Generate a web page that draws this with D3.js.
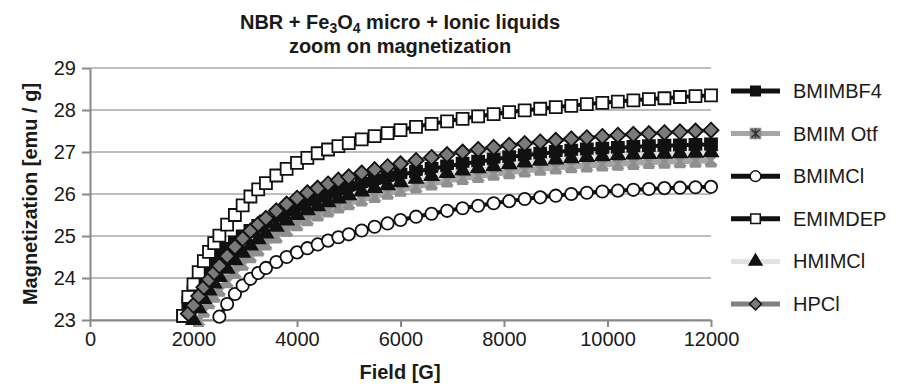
<!DOCTYPE html>
<html lang="en">
    <head>
        <meta charset="utf-8">
        <title>Magnetization</title>
        <script src="https://d3js.org/d3.v7.min.js"></script>
        <style>
            body { margin: 0; background: #fff; }
            text { font-family: "Liberation Sans", Arial, sans-serif; fill: #1a1a1a; }
        </style>
    </head>

    <body>
        <div id="chart"></div>

        <script>
            // field values [G], shared by all series
            var fields = [1800, 1900, 2000, 2100, 2200, 2300, 2400, 2500, 2650, 2800, 2950, 3100, 3250, 3400,
                3600, 3800, 4000, 4200, 4400, 4600, 4800, 5000, 5250, 5500, 5750, 6000,
                6300, 6600, 6900, 7200, 7500, 7800, 8100, 8400, 8700, 9000, 9300, 9600, 9900,
                10200, 10500, 10800, 11100, 11400, 11700, 12000];

            // magnetization [emu/g], null = below the visible range
            var bmimbf4 = [23.1, 23.4, 23.65, 23.87, 24.06, 24.23, 24.38, 24.51, 24.69, 24.85, 24.99, 25.12, 25.24, 25.35,
                25.49, 25.61, 25.72, 25.82, 25.91, 26.0, 26.08, 26.15, 26.24, 26.32, 26.39, 26.46,
                26.53, 26.6, 26.66, 26.72, 26.77, 26.82, 26.88, 26.92, 26.96, 27.0, 27.03, 27.06, 27.08,
                27.1, 27.12, 27.14, 27.15, 27.16, 27.17, 27.18];
            var bmimOtf = [null, null, null, 23.0, 23.22, 23.42, 23.58, 23.72, 23.92, 24.14, 24.34, 24.52, 24.68, 24.82,
                24.99, 25.14, 25.28, 25.4, 25.51, 25.61, 25.7, 25.78, 25.87, 25.95, 26.03, 26.1,
                26.18, 26.25, 26.32, 26.38, 26.43, 26.48, 26.52, 26.56, 26.6, 26.63, 26.66, 26.68, 26.7,
                26.72, 26.74, 26.76, 26.77, 26.78, 26.79, 26.8];
            var bmimCl = [null, null, null, null, null, null, null, 23.08, 23.38, 23.62, 23.82, 23.98, 24.12, 24.24,
                24.38, 24.5, 24.61, 24.71, 24.8, 24.89, 24.97, 25.04, 25.13, 25.22, 25.3, 25.38,
                25.46, 25.53, 25.6, 25.66, 25.72, 25.78, 25.83, 25.88, 25.92, 25.96, 26.0, 26.03, 26.06,
                26.08, 26.1, 26.12, 26.14, 26.15, 26.16, 26.17];
            var emimdep = [23.1, 23.55, 23.85, 24.14, 24.4, 24.62, 24.83, 25.01, 25.27, 25.5, 25.73, 25.94, 26.11, 26.26,
                26.44, 26.6, 26.74, 26.86, 26.97, 27.06, 27.14, 27.21, 27.3, 27.38, 27.45, 27.52,
                27.6, 27.67, 27.73, 27.79, 27.85, 27.9, 27.95, 27.99, 28.03, 28.07, 28.1, 28.14, 28.17,
                28.2, 28.23, 28.26, 28.28, 28.31, 28.33, 28.35];
            var hmimCl = [null, null, 23.0, 23.28, 23.5, 23.7, 23.87, 24.02, 24.22, 24.42, 24.6, 24.77, 24.92, 25.06,
                25.22, 25.37, 25.5, 25.61, 25.71, 25.8, 25.89, 25.97, 26.06, 26.14, 26.21, 26.28,
                26.36, 26.43, 26.5, 26.56, 26.61, 26.66, 26.71, 26.75, 26.79, 26.82, 26.85, 26.88, 26.9,
                26.92, 26.94, 26.95, 26.96, 26.97, 26.98, 26.99];
            var hpCl = [null, 23.15, 23.35, 23.57, 23.78, 23.96, 24.13, 24.29, 24.52, 24.74, 24.94, 25.12, 25.28, 25.42,
                25.6, 25.76, 25.9, 26.03, 26.14, 26.24, 26.33, 26.41, 26.5, 26.58, 26.65, 26.72,
                26.8, 26.87, 26.94, 27.0, 27.06, 27.11, 27.16, 27.2, 27.24, 27.28, 27.31, 27.34, 27.37,
                27.4, 27.42, 27.44, 27.46, 27.48, 27.5, 27.52];

            var seriesNames = ["BMIMBF4", "BMIM Otf", "BMIMCl", "EMIMDEP", "HMIMCl", "HPCl"];
            var seriesValues = [bmimbf4, bmimOtf, bmimCl, emimdep, hmimCl, hpCl];

            var xTicks = [0, 2000, 4000, 6000, 8000, 10000, 12000];
            var yTicks = [23, 24, 25, 26, 27, 28, 29];

            // look of each series (line colour, marker)
            var styles = [
                {line: "#111", marker: "square", fill: "#111", stroke: "#111"},
                {line: "#a6a6a6", marker: "star", fill: "#a6a6a6", stroke: "#8f8f8f"},
                {line: "#111", marker: "circle", fill: "#fff", stroke: "#111"},
                {line: "#111", marker: "square", fill: "#fff", stroke: "#111"},
                {line: "#e2e2e2", marker: "triangle", fill: "#111", stroke: "#111"},
                {line: "#808080", marker: "diamond", fill: "#7a7a7a", stroke: "#111"}
            ];

            var width = 906, height = 387;
            var plot = {left: 90, right: 711, top: 68, bottom: 320};

            var svg = d3.select("#chart")
                        .append("svg")
                        .attr("width", width)
                        .attr("height", height);

            svg.append("rect")
                .attr("width", width)
                .attr("height", height)
                .style("fill", "#fff");

            var x = d3.scaleLinear().domain([0, 12000]).range([plot.left, plot.right]);
            var y = d3.scaleLinear().domain([23, 29]).range([plot.bottom, plot.top]);

            //gridlines
            svg.append("g")
                .selectAll("line")
                .data(yTicks)
                .enter()
                .append("line")
                .attr("x1", plot.left)
                .attr("x2", plot.right)
                .attr("y1", function(d){ return y(d); })
                .attr("y2", function(d){ return y(d); })
                .attr("stroke", "#a8a8a8")
                .attr("stroke-width", 1.5);

            //axes
            var xAxis = svg.append("g")
                .attr("transform", "translate(0," + plot.bottom + ")")
                .call(d3.axisBottom(x).tickValues(xTicks).tickFormat(d3.format("d"))
                    .tickSize(7).tickSizeOuter(0).tickPadding(5));
            var yAxis = svg.append("g")
                .attr("transform", "translate(" + plot.left + ",0)")
                .call(d3.axisLeft(y).tickValues(yTicks).tickFormat(d3.format("d"))
                    .tickSize(8).tickSizeOuter(0).tickPadding(6));

            [xAxis, yAxis].forEach(function(a){
                a.select(".domain").attr("stroke", "#888").attr("stroke-width", 2);
                a.selectAll(".tick line").attr("stroke", "#888").attr("stroke-width", 2);
                a.selectAll(".tick text")
                    .style("font-family", "'Liberation Sans', Arial, sans-serif")
                    .style("font-size", "20px")
                    .attr("fill", "#1a1a1a");
            });

            function markerPath(type){
                if (type == "square") return d3.symbol().type(d3.symbolSquare).size(144)();
                if (type == "circle") return d3.symbol().type(d3.symbolCircle).size(120)();
                if (type == "triangle") return d3.symbol().type(d3.symbolTriangle).size(85)();
                if (type == "diamond") return "M0,-7.5L7.5,0L0,7.5L-7.5,0Z";
                return "M-5.5,-5.5L5.5,5.5M-5.5,5.5L5.5,-5.5M0,-6L0,6M-5.5,-5.5L5.5,-5.5M-5.5,5.5L5.5,5.5";
            }

            var line = d3.line()
                .defined(function(d){ return d[1] != null; })
                .x(function(d){ return x(d[0]); })
                .y(function(d){ return y(d[1]); });

            seriesValues.forEach(function(vals, i){
                var st = styles[i];
                var pts = fields.map(function(f, j){ return [f, vals[j]]; });
                var g = svg.append("g").attr("class", "series");

                g.append("path")
                    .attr("d", line(pts))
                    .attr("fill", "none")
                    .attr("stroke", st.line)
                    .attr("stroke-width", st.marker == "star" ? 6 : 4);

                g.selectAll(".pt")
                    .data(pts.filter(function(d){ return d[1] != null; }))
                    .enter()
                    .append("path")
                    .attr("class", "pt")
                    .attr("transform", function(d){ return "translate(" + x(d[0]) + "," + y(d[1]) + ")"; })
                    .attr("d", markerPath(st.marker))
                    .attr("fill", st.marker == "star" ? "none" : st.fill)
                    .attr("stroke", st.stroke)
                    .attr("stroke-width", st.marker == "star" ? 3 : 1.8);
            });

            //legend
            var legend = svg.append("g")
                .selectAll("g")
                .data(seriesNames)
                .enter()
                .append("g")
                .attr("transform", function(d, i){ return "translate(731," + (91 + i * 42.6) + ")"; });

            legend.append("line")
                .attr("x1", 0)
                .attr("x2", 49)
                .attr("stroke", function(d, i){ return styles[i].line; })
                .attr("stroke-width", 5);

            legend.append("path")
                .attr("transform", "translate(24.5,0)")
                .attr("d", function(d, i){
                    var m = styles[i].marker;
                    if (m == "star") return "M-5,-5H5V5H-5Z";
                    if (m == "square") return d3.symbol().type(d3.symbolSquare).size(90)();
                    if (m == "circle") return d3.symbol().type(d3.symbolCircle).size(90)();
                    if (m == "triangle") return d3.symbol().type(d3.symbolTriangle).size(70)();
                    return "M0,-6L6,0L0,6L-6,0Z";
                })
                .attr("fill", function(d, i){ return styles[i].marker == "star" ? "#8c8c8c" : styles[i].fill; })
                .attr("stroke", function(d, i){ return styles[i].marker == "star" ? "#8c8c8c" : styles[i].stroke; })
                .attr("stroke-width", 1.5);

            legend.filter(function(d, i){ return styles[i].marker == "star"; })
                .append("path")
                .attr("transform", "translate(24.5,0)")
                .attr("d", "M-4,-4L4,4M-4,4L4,-4M0,-5L0,5")
                .attr("stroke", "#333")
                .attr("stroke-width", 1.5);

            legend.append("text")
                .attr("x", 62)
                .attr("y", 7)
                .style("font-size", "20px")
                .text(function(d){ return d; });

            //titles
            var title = svg.append("text")
                .attr("x", 400)
                .attr("y", 29)
                .attr("text-anchor", "middle")
                .style("font-size", "20px")
                .style("font-weight", "bold");
            title.append("tspan").text("NBR + Fe");
            title.append("tspan").attr("baseline-shift", "-25%").style("font-size", "14px").text("3");
            title.append("tspan").text("O");
            title.append("tspan").attr("baseline-shift", "-25%").style("font-size", "14px").text("4");
            title.append("tspan").text(" micro + Ionic liquids");

            svg.append("text")
                .attr("x", 400)
                .attr("y", 53)
                .attr("text-anchor", "middle")
                .style("font-size", "20px")
                .style("font-weight", "bold")
                .text("zoom on magnetization");

            svg.append("text")
                .attr("x", 400)
                .attr("y", 379)
                .attr("text-anchor", "middle")
                .style("font-size", "20px")
                .style("font-weight", "bold")
                .text("Field [G]");

            svg.append("text")
                .attr("transform", "translate(37," + (plot.top + plot.bottom) / 2 + ") rotate(-90)")
                .attr("text-anchor", "middle")
                .style("font-size", "20px")
                .style("font-weight", "bold")
                .text("Magnetization [emu / g]");
        </script>
    </body>
</html>
